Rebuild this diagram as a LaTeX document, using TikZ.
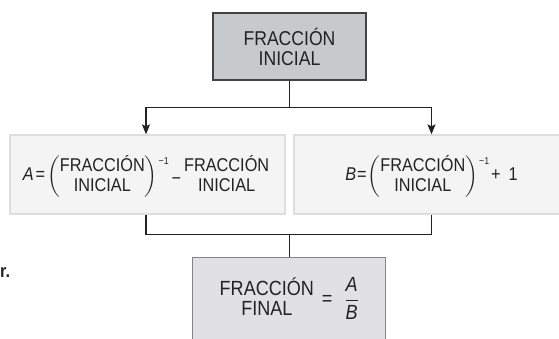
\documentclass[tikz,border=0pt]{standalone}
\usepackage{amsmath}
\usepackage{fontspec}
\setmainfont{Liberation Sans}[FakeStretch=0.88]
\usetikzlibrary{arrows.meta}

\definecolor{inkgray}{HTML}{222222}
\definecolor{topfill}{HTML}{C8C9CB}
\definecolor{midfill}{HTML}{F4F4F4}
\definecolor{midline}{HTML}{DEDEDE}
\definecolor{endfill}{HTML}{E1E1E3}

\newcommand{\fracini}{\begin{tabular}{@{}c@{}}FRACCIÓN\\INICIAL\end{tabular}}
\newcommand{\parenini}{$\left(\fracini\right)$\kern1pt\raisebox{16pt}{\fontsize{10}{10}\selectfont −1}}

\begin{document}
\begin{tikzpicture}[x=1pt,y=-1pt,
	every node/.style={text=inkgray},
	topbox/.style={draw=inkgray!85,line width=1.3pt,fill=topfill,minimum width=153pt,minimum height=67pt,align=center,font=\fontsize{20}{20}\selectfont},
	midbox/.style={draw=midline,line width=1.3pt,fill=midfill,minimum height=79pt},
	midlabel/.style={inner sep=0pt,font=\fontsize{18.5}{20}\selectfont},
	endbox/.style={draw=inkgray!55,line width=1.3pt,fill=endfill,minimum width=193pt,minimum height=84pt,font=\fontsize{20.5}{20}\selectfont},
	link/.style={draw=inkgray,line width=1.4pt},
	pointer/.style={link,-{Stealth[length=10pt,width=8pt,inset=2pt]}}]
\useasboundingbox (0,0) rectangle (559,339);

% CUT TEXT
\node[anchor=base west,font=\fontsize{18.5}{20}\selectfont\bfseries,inner sep=0pt] (cut) at (0,277) {r.};

% INITIAL FRACTION
\node[topbox] (init) at (289.5,46.5) {FRACCIÓN\\INICIAL};

% A AND B
\node[midbox,minimum width=275pt] (boxA) at (147.5,174.5) {};
\node[midlabel] (labA) at (146,176.5)
	{\textit{A}\kern2pt=\kern2pt\parenini\kern3pt\raisebox{-4pt}{−}\kern3pt\fracini};
\node[midbox,minimum width=300pt] (boxB) at (444,174.5) {};
\node[midlabel] (labB) at (431.5,176.5)
	{\textit{B}\kern1pt=\kern1pt\parenini\kern2pt+\kern8pt1};

% FINAL FRACTION
\node[endbox] (final) at (289.3,299.5) {\begin{tabular}{@{}c@{}}FRACCIÓN\\FINAL\end{tabular}\kern8pt=\kern12pt${\displaystyle\frac{\textit{A}}{\textit{B}}}$};

% CONNECTORS
\draw[link] (init.south) -- ++(0,27) coordinate (split);
\draw[pointer] (split) -| (boxA.north -| labA);
\draw[pointer] (split) -| (boxB.north -| labB);
\draw[link] (boxA.south -| labA) -- ++(0,20) coordinate (joinL) -| (boxB.south -| labB);
\draw[link] (joinL -| final) -- (final.north);
\end{tikzpicture}
\end{document}
